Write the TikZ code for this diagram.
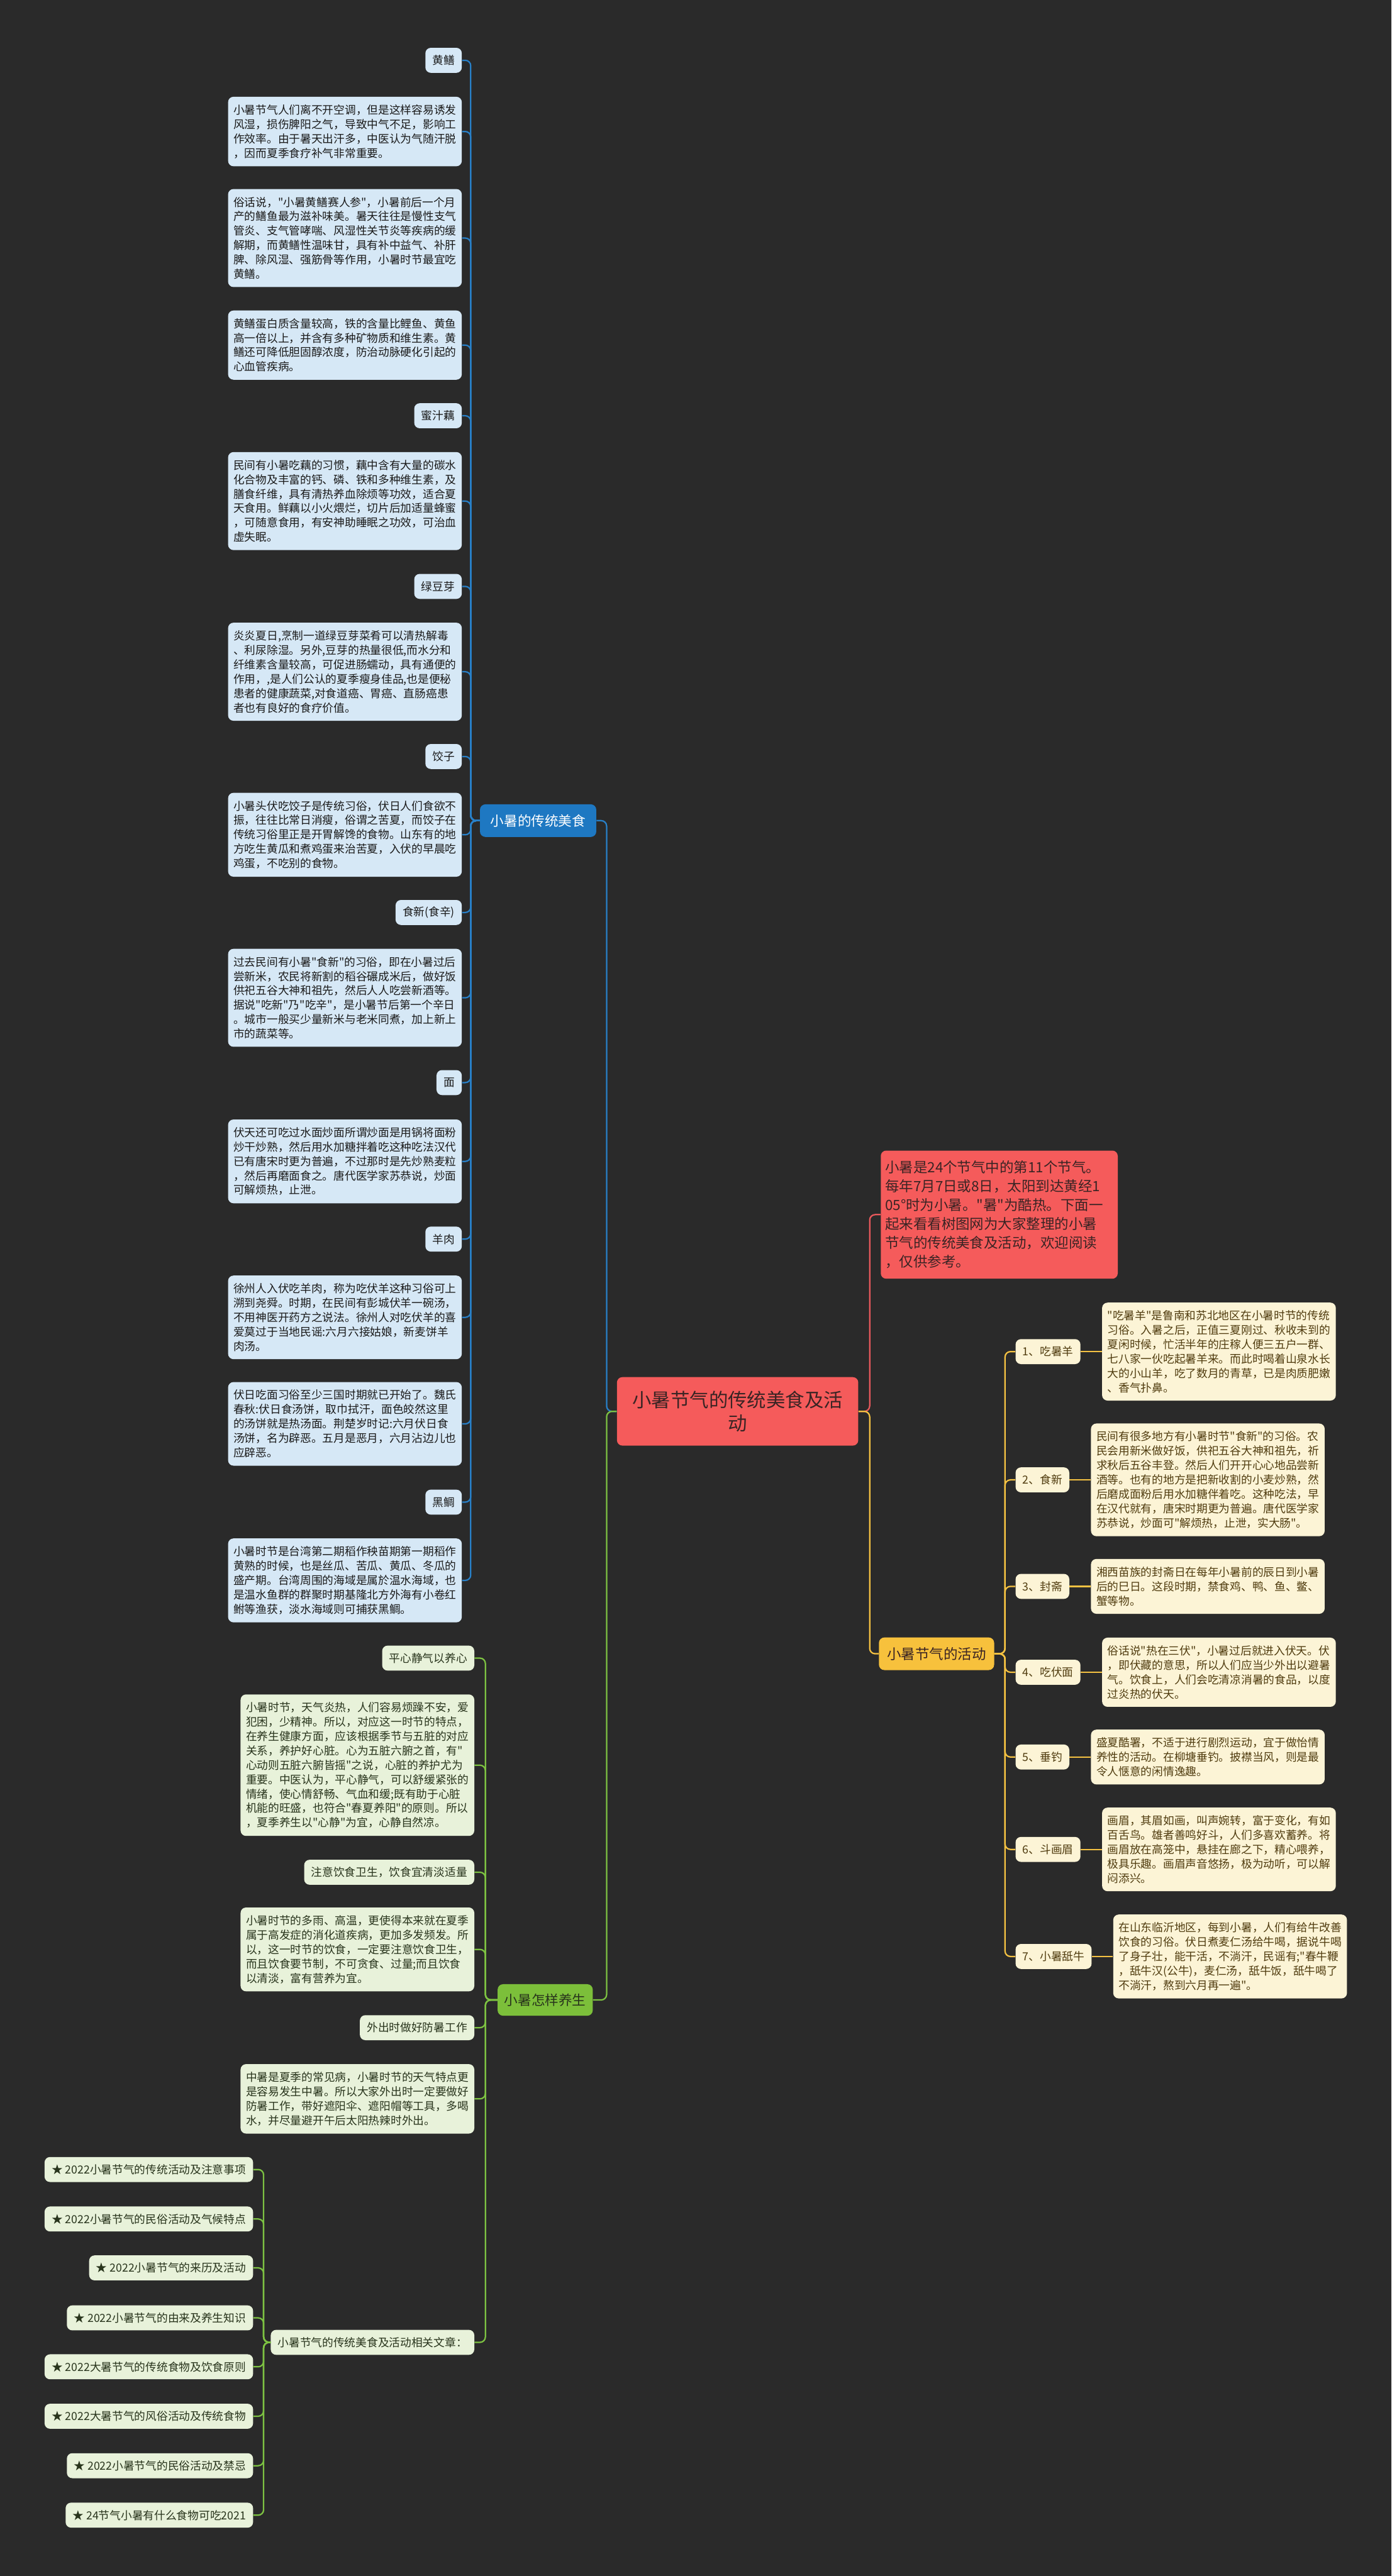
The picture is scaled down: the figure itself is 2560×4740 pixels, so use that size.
\documentclass[tikz,border=0pt]{standalone}
\usepackage{fontspec}
\newfontfamily\cjkfont{Noto Sans CJK SC}
\usetikzlibrary{positioning}
\definecolor{bg}{RGB}{42,42,42}
\definecolor{bline}{RGB}{40,128,200}
\definecolor{bnodec}{RGB}{30,120,194}
\definecolor{bfill}{RGB}{214,232,246}
\definecolor{btext}{RGB}{26,26,26}
\definecolor{yline}{RGB}{245,194,66}
\definecolor{ynodec}{RGB}{247,193,60}
\definecolor{yfill}{RGB}{252,244,214}
\definecolor{ytext}{RGB}{80,60,15}
\definecolor{gline}{RGB}{125,194,66}
\definecolor{gnodec}{RGB}{124,191,58}
\definecolor{gfill}{RGB}{232,242,218}
\definecolor{gtext}{RGB}{40,52,28}
\definecolor{redc}{RGB}{245,91,91}
\definecolor{rline}{RGB}{232,89,92}
\definecolor{ctext}{RGB}{58,36,36}
\begin{document}
\cjkfont
\begin{tikzpicture}[x=0.5pt,y=-0.5pt,
 every node/.style={inner sep=0pt},
 box/.style={rounded corners=5pt, font=\cjkfont\fontsize{10.25pt}{13.25pt}\selectfont},
 para/.style={box, text width=205pt, align=left, inner xsep=5pt, inner ysep=7.2pt},
 lab/.style={box, inner xsep=6.5pt, minimum height=23pt},
 bpara/.style={para, fill=bfill, text=btext, anchor=east},
 blab/.style={lab, fill=bfill, text=btext, anchor=east},
 ypara/.style={para, fill=yfill, text=ytext, anchor=west},
 ylab/.style={lab, fill=yfill, text=ytext, anchor=west},
 gpara/.style={para, fill=gfill, text=gtext, anchor=east},
 glab/.style={lab, fill=gfill, text=gtext, anchor=east},
 bigbox/.style={rounded corners=5pt, font=\cjkfont\fontsize{12.5pt}{15pt}\selectfont, minimum height=30pt},
 bconn/.style={draw=bline, line width=1.3pt, rounded corners=5pt},
 yconn/.style={draw=yline, line width=1.3pt, rounded corners=5pt},
 gconn/.style={draw=gline, line width=1.3pt, rounded corners=5pt},
 rconn/.style={draw=rline, line width=1.3pt, rounded corners=5pt}]
\fill[bg] (0,0) rectangle (2560,4740);
\useasboundingbox (0,0) rectangle (2560,4740);

% central
\node[rounded corners=5pt, fill=redc, text=ctext, minimum width=222pt, minimum height=63pt, text width=205pt, align=center, font=\cjkfont\fontsize{17.6pt}{21.5pt}\selectfont] (c) at (1357,2597) {小暑节气的传统美食及活\\动};

% red intro
\node[rounded corners=5pt, fill=redc, text=ctext, anchor=west, text width=210pt, align=left, inner xsep=4pt, inner ysep=9.5pt, font=\cjkfont\fontsize{13pt}{17.3pt}\selectfont] (r) at (1620,2235) {小暑是24个节气中的第11个节气。\\每年7月7日或8日，太阳到达黄经1\\05°时为小暑。"暑"为酷热。下面一\\起来看看树图网为大家整理的小暑\\节气的传统美食及活动，欢迎阅读\\，仅供参考。};

% branch nodes
\node[bigbox, fill=bnodec, text=white, minimum width=107pt] (bn) at (990,1510) {小暑的传统美食};
\node[bigbox, fill=ynodec, text=ctext, minimum width=106pt, font=\cjkfont\fontsize{13pt}{15pt}\selectfont] (yn) at (1723,3043) {小暑节气的活动};
\node[bigbox, fill=gnodec, text=gtext, minimum width=87.5pt, minimum height=29pt] (gn) at (1003,3680) {小暑怎样养生};

% blue children
\node[blab] (b1) at (850,111) {黄鳝};
\node[bpara] (b2) at (850,242) {小暑节气人们离不开空调，但是这样容易诱发\\风湿，损伤脾阳之气，导致中气不足，影响工\\作效率。由于暑天出汗多，中医认为气随汗脱\\，因而夏季食疗补气非常重要。};
\node[bpara] (b3) at (850,438) {俗话说，"小暑黄鳝赛人参"，小暑前后一个月\\产的鳝鱼最为滋补味美。暑天往往是慢性支气\\管炎、支气管哮喘、风湿性关节炎等疾病的缓\\解期，而黄鳝性温味甘，具有补中益气、补肝\\脾、除风湿、强筋骨等作用，小暑时节最宜吃\\黄鳝。};
\node[bpara] (b4) at (850,635) {黄鳝蛋白质含量较高，铁的含量比鲤鱼、黄鱼\\高一倍以上，并含有多种矿物质和维生素。黄\\鳝还可降低胆固醇浓度，防治动脉硬化引起的\\心血管疾病。};
\node[blab] (b5) at (850,765) {蜜汁藕};
\node[bpara] (b6) at (850,922) {民间有小暑吃藕的习惯，藕中含有大量的碳水\\化合物及丰富的钙、磷、铁和多种维生素，及\\膳食纤维，具有清热养血除烦等功效，适合夏\\天食用。鲜藕以小火煨烂，切片后加适量蜂蜜\\，可随意食用，有安神助睡眠之功效，可治血\\虚失眠。};
\node[blab] (b7) at (850,1079) {绿豆芽};
\node[bpara] (b8) at (850,1236) {炎炎夏日,烹制一道绿豆芽菜肴可以清热解毒\\、利尿除湿。另外,豆芽的热量很低,而水分和\\纤维素含量较高，可促进肠蠕动，具有通便的\\作用，,是人们公认的夏季瘦身佳品,也是便秘\\患者的健康蔬菜,对食道癌、胃癌、直肠癌患\\者也有良好的食疗价值。};
\node[blab] (b9) at (850,1392) {饺子};
\node[bpara] (b10) at (850,1536) {小暑头伏吃饺子是传统习俗，伏日人们食欲不\\振，往往比常日消瘦，俗谓之苦夏，而饺子在\\传统习俗里正是开胃解馋的食物。山东有的地\\方吃生黄瓜和煮鸡蛋来治苦夏，入伏的早晨吃\\鸡蛋，不吃别的食物。};
\node[blab] (b11) at (850,1679) {食新(食辛)};
\node[bpara] (b12) at (850,1836) {过去民间有小暑"食新"的习俗，即在小暑过后\\尝新米，农民将新割的稻谷碾成米后，做好饭\\供祀五谷大神和祖先，然后人人吃尝新酒等。\\据说"吃新"乃"吃辛"，是小暑节后第一个辛日\\。城市一般买少量新米与老米同煮，加上新上\\市的蔬菜等。};
\node[blab] (b13) at (850,1992) {面};
\node[bpara] (b14) at (850,2137) {伏天还可吃过水面炒面所谓炒面是用锅将面粉\\炒干炒熟，然后用水加糖拌着吃这种吃法汉代\\已有唐宋时更为普遍，不过那时是先炒熟麦粒\\，然后再磨面食之。唐代医学家苏恭说，炒面\\可解烦热，止泄。};
\node[blab] (b15) at (850,2280) {羊肉};
\node[bpara] (b16) at (850,2424) {徐州人入伏吃羊肉，称为吃伏羊这种习俗可上\\溯到尧舜。时期，在民间有彭城伏羊一碗汤，\\不用神医开药方之说法。徐州人对吃伏羊的喜\\爱莫过于当地民谣:六月六接姑娘，新麦饼羊\\肉汤。};
\node[bpara] (b17) at (850,2620) {伏日吃面习俗至少三国时期就已开始了。魏氏\\春秋:伏日食汤饼，取巾拭汗，面色皎然这里\\的汤饼就是热汤面。荆楚岁时记:六月伏日食\\汤饼，名为辟恶。五月是恶月，六月沾边儿也\\应辟恶。};
\node[blab] (b18) at (850,2764) {黑鲷};
\node[bpara] (b19) at (850,2908) {小暑时节是台湾第二期稻作秧苗期第一期稻作\\黄熟的时候，也是丝瓜、苦瓜、黄瓜、冬瓜的\\盛产期。台湾周围的海域是属於温水海域，也\\是温水鱼群的群聚时期基隆北方外海有小卷红\\鲋等渔获，淡水海域则可捕获黑鲷。};

% yellow children
\node[ylab] (y1) at (1868,2487) {1、吃暑羊};
\node[ypara, right=19.5pt of y1] (y1t) {"吃暑羊"是鲁南和苏北地区在小暑时节的传统\\习俗。入暑之后，正值三夏刚过、秋收未到的\\夏闲时候，忙活半年的庄稼人便三五户一群、\\七八家一伙吃起暑羊来。而此时喝着山泉水长\\大的小山羊，吃了数月的青草，已是肉质肥嫩\\、香气扑鼻。};
\node[ylab] (y2) at (1868,2723) {2、食新};
\node[ypara, right=19.5pt of y2] (y2t) {民间有很多地方有小暑时节"食新"的习俗。农\\民会用新米做好饭，供祀五谷大神和祖先，祈\\求秋后五谷丰登。然后人们开开心心地品尝新\\酒等。也有的地方是把新收割的小麦炒熟，然\\后磨成面粉后用水加糖伴着吃。这种吃法，早\\在汉代就有，唐宋时期更为普遍。唐代医学家\\苏恭说，炒面可"解烦热，止泄，实大肠"。};
\node[ylab] (y3) at (1868,2919) {3、封斋};
\node[ypara, right=19.5pt of y3] (y3t) {湘西苗族的封斋日在每年小暑前的辰日到小暑\\后的巳日。这段时期，禁食鸡、鸭、鱼、鳖、\\蟹等物。};
\node[ylab] (y4) at (1868,3077) {4、吃伏面};
\node[ypara, right=19.5pt of y4] (y4t) {俗话说"热在三伏"，小暑过后就进入伏天。伏\\，即伏藏的意思，所以人们应当少外出以避暑\\气。饮食上，人们会吃清凉消暑的食品，以度\\过炎热的伏天。};
\node[ylab] (y5) at (1868,3233) {5、垂钓};
\node[ypara, right=19.5pt of y5] (y5t) {盛夏酷署，不适于进行剧烈运动，宜于做怡情\\养性的活动。在柳塘垂钓。披襟当风，则是最\\令人惬意的闲情逸趣。};
\node[ylab] (y6) at (1868,3403) {6、斗画眉};
\node[ypara, right=19.5pt of y6] (y6t) {画眉，其眉如画，叫声婉转，富于变化，有如\\百舌鸟。雄者善鸣好斗，人们多喜欢蓄养。将\\画眉放在高笼中，悬挂在廊之下，精心喂养，\\极具乐趣。画眉声音悠扬，极为动听，可以解\\闷添兴。};
\node[ylab] (y7) at (1868,3600) {7、小暑舐牛};
\node[ypara, right=19.5pt of y7] (y7t) {在山东临沂地区，每到小暑，人们有给牛改善\\饮食的习俗。伏日煮麦仁汤给牛喝，据说牛喝\\了身子壮，能干活，不淌汗，民谣有;"春牛鞭\\，舐牛汉(公牛)，麦仁汤，舐牛饭，舐牛喝了\\不淌汗，熬到六月再一遍"。};

% green children
\node[glab] (g1) at (873,3051) {平心静气以养心};
\node[gpara] (g2) at (873,3248) {小暑时节，天气炎热，人们容易烦躁不安，爱\\犯困，少精神。所以，对应这一时节的特点，\\在养生健康方面，应该根据季节与五脏的对应\\关系，养护好心脏。心为五脏六腑之首，有"\\心动则五脏六腑皆摇"之说，心脏的养护尤为\\重要。中医认为，平心静气，可以舒缓紧张的\\情绪，使心情舒畅、气血和缓;既有助于心脏\\机能的旺盛，也符合"春夏养阳"的原则。所以\\，夏季养生以"心静"为宜，心静自然凉。};
\node[glab] (g3) at (873,3445) {注意饮食卫生，饮食宜清淡适量};
\node[gpara] (g4) at (873,3587) {小暑时节的多雨、高温，更使得本来就在夏季\\属于高发症的消化道疾病，更加多发频发。所\\以，这一时节的饮食，一定要注意饮食卫生，\\而且饮食要节制，不可贪食、过量;而且饮食\\以清淡，富有营养为宜。};
\node[glab] (g5) at (873,3731) {外出时做好防暑工作};
\node[gpara] (g6) at (873,3862) {中暑是夏季的常见病，小暑时节的天气特点更\\是容易发生中暑。所以大家外出时一定要做好\\防暑工作，带好遮阳伞、遮阳帽等工具，多喝\\水，并尽量避开午后太阳热辣时外出。};
\node[glab] (g7) at (873,4310) {小暑节气的传统美食及活动相关文章：};

% articles
\node[glab] (a1) at (466,3992) {★ 2022小暑节气的传统活动及注意事项};
\node[glab] (a2) at (466,4083) {★ 2022小暑节气的民俗活动及气候特点};
\node[glab] (a3) at (466,4173) {★ 2022小暑节气的来历及活动};
\node[glab] (a4) at (466,4265) {★ 2022小暑节气的由来及养生知识};
\node[glab] (a5) at (466,4355) {★ 2022大暑节气的传统食物及饮食原则};
\node[glab] (a6) at (466,4446) {★ 2022大暑节气的风俗活动及传统食物};
\node[glab] (a7) at (466,4537) {★ 2022小暑节气的民俗活动及禁忌};
\node[glab] (a8) at (466,4628) {★ 24节气小暑有什么食物可吃2021};

% connectors: central
\draw[bconn] (c.west) -- (1116,2597) |- (bn.east);
\draw[gconn] (c.west) -- (1116,2597) |- (gn.east);
\draw[rconn] (c.east) -- (1600,2597) |- (r.west);
\draw[yconn] (c.east) -- (1600,2597) |- (yn.west);

% blue
\foreach \n in {b1,b2,b3,b4,b5,b6,b7,b8,b9,b10,b11,b12,b13,b14,b15,b16,b17,b18,b19}
  \draw[bconn] (bn.west) -- (866,1510) |- (\n.east);

% yellow
\foreach \n in {y1,y2,y3,y4,y5,y6,y7}{
  \draw[yconn] (yn.east) -- (1849,3043) |- (\n.west);
  \draw[yconn] (\n.east) -- (\n t.west);
}

% green
\foreach \n in {g1,g2,g3,g4,g5,g6,g7}
  \draw[gconn] (gn.west) -- (893,3680) |- (\n.east);
\foreach \n in {a1,a2,a3,a4,a5,a6,a7,a8}
  \draw[gconn] (g7.west) -- (485,4310) |- (\n.east);
\end{tikzpicture}
\end{document}
